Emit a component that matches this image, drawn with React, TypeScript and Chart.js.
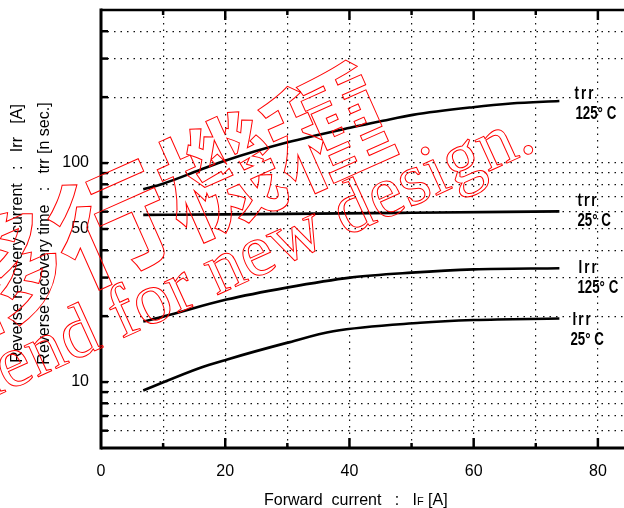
import React, { useEffect, useRef } from "react";
import { Chart, registerables } from "chart.js";

Chart.register(...registerables);

// ---- data ----
const xTrr125 = [6.8, 10, 15.9, 20.2, 29.9, 40.1, 45.4, 50.2, 59.9, 66, 73.8];
const trr125 = [76, 80.5, 93, 103, 124, 145, 156, 166, 180, 187, 192];

const xTrr25 = [6.8, 20, 30, 50, 73.8];
const trr25 = [58, 58.3, 58.6, 59.3, 60.2];

const xIrr125 = [6.8, 10, 20.2, 29.9, 40.1, 50, 60, 73.8];
const irr125 = [18.9, 19.9, 23.8, 27.0, 30.0, 31.6, 32.7, 33.1];

const xIrr25 = [6.8, 15.9, 20.2, 29.9, 37.4, 51.4, 60, 73.8];
const irr25 = [9.15, 11.6, 12.66, 15.1, 17.06, 18.65, 19.2, 19.5];

const seriesNames = ["trr", "trr", "Irr", "Irr"];
const seriesTemps = ["125° C", "25° C", "125° C", "25° C"];

const xGridValues = [0, 10, 20, 30, 40, 50, 60, 70, 80, 90];
const xLabelValues = [0, 20, 40, 60, 80];
const yGridValues = [5, 6, 7, 8, 9, 10, 20, 30, 40, 50, 60, 70, 80, 90, 100, 200, 300, 400, 500];
const yLabelValues = [10, 50, 100];

const xTitleMain = "Forward  current   :   I";
const xTitleSub = "F";
const xTitleEnd = " [A]";
const yTitleLines = [
  "Reverse recovery current   :   Irr   [A]",
  "Reverse recovery time   :   trr [n sec.]",
];
const watermarkJa = "移行機種";
const watermarkEn = "Not recommend for new design.";

// ---- style ----
const FONT = '"Liberation Sans", Arial, sans-serif';
const labelOffsets = [
  { dx1: 15, dy1: -7, dx2: 16, dy2: 13 },
  { dx1: 18, dy1: -10, dx2: 18, dy2: 10 },
  { dx1: 19, dy1: 0, dx2: 18, dy2: 20 },
  { dx1: 13, dy1: 1, dx2: 11, dy2: 21 },
];

const toPoints = (xs: number[], ys: number[]) => xs.map((x, i) => ({ x, y: ys[i] }));

const overlayPlugin = {
  id: "overlay",
  afterDraw(chart: any) {
    const { ctx, chartArea: ca, scales } = chart;
    const xs = scales.x;
    const ys = scales.y;
    const line = (x1: number, y1: number, x2: number, y2: number) => {
      ctx.beginPath();
      ctx.moveTo(x1, y1);
      ctx.lineTo(x2, y2);
      ctx.stroke();
    };
    ctx.save();
    ctx.strokeStyle = "#000";
    ctx.lineCap = "butt";
    // frame
    ctx.lineWidth = 3;
    line(ca.left, ca.top - 1.5, ca.left, ca.bottom + 1.5);
    line(ca.left, ca.bottom, ca.right, ca.bottom);
    ctx.lineWidth = 2.5;
    line(ca.left, ca.top, ca.right, ca.top);
    // inward ticks
    ctx.lineWidth = 2.5;
    yGridValues.forEach((v) => {
      if (v <= 5 || v >= 500) return;
      const y = ys.getPixelForValue(v);
      line(ca.left, y, ca.left + 7, y);
    });
    xGridValues.forEach((v) => {
      if (v <= 0) return;
      const x = xs.getPixelForValue(v);
      const len = v % 20 === 0 ? 10 : 5;
      line(x, ca.bottom, x, ca.bottom - len);
      line(x, ca.top, x, ca.top + len);
    });

    // series labels
    ctx.fillStyle = "#000";
    ctx.textBaseline = "middle";
    ctx.textAlign = "left";
    chart.data.datasets.forEach((_: any, i: number) => {
      const meta = chart.getDatasetMeta(i);
      const last = meta.data[meta.data.length - 1];
      const o = labelOffsets[i];
      const draw = (t: string, x: number, y: number, spacing: string) => {
        ctx.save();
        ctx.translate(x, y);
        ctx.scale(0.72, 1);
        ctx.font = "bold 18.5px " + FONT;
        (ctx as any).letterSpacing = spacing;
        ctx.fillText(t, 0, 0);
        ctx.restore();
      };
      draw(seriesNames[i], last.x + o.dx1, last.y + o.dy1, "3px");
      draw(seriesTemps[i], last.x + o.dx2, last.y + o.dy2, "0px");
    });

    // x title
    ctx.textBaseline = "alphabetic";
    ctx.font = "16px " + FONT;
    let tx = 264;
    const ty = 505;
    ctx.fillText(xTitleMain, tx, ty);
    tx += ctx.measureText(xTitleMain).width;
    ctx.font = "11px " + FONT;
    ctx.fillText(xTitleSub, tx, ty);
    tx += ctx.measureText(xTitleSub).width;
    ctx.font = "16px " + FONT;
    ctx.fillText(xTitleEnd, tx, ty);

    // y title (two rotated lines)
    ctx.font = "16px " + FONT;
    ctx.textAlign = "center";
    ctx.textBaseline = "middle";
    [18, 45].forEach((cx, i) => {
      ctx.save();
      ctx.translate(cx, 233.5);
      ctx.rotate(-Math.PI / 2);
      ctx.fillText(yTitleLines[i], 0, 0);
      ctx.restore();
    });

    // watermark
    ctx.strokeStyle = "#ff0000";
    ctx.lineWidth = 1;
    ctx.save();
    ctx.translate(165, 200);
    ctx.rotate((-24 * Math.PI) / 180);
    ctx.font = 'bold 118px "Noto Sans CJK JP"';
    ctx.textAlign = "center";
    ctx.textBaseline = "middle";
    ctx.strokeText(watermarkJa, 0, 0);
    ctx.restore();
    ctx.save();
    ctx.translate(538, 149);
    ctx.rotate((-24.5 * Math.PI) / 180);
    ctx.font = '74px "Liberation Serif", serif';
    ctx.textAlign = "right";
    ctx.textBaseline = "alphabetic";
    ctx.strokeText(watermarkEn, 0, 0);
    ctx.restore();

    ctx.restore();
  },
};

export default function App() {
  const ref = useRef<HTMLCanvasElement | null>(null);

  useEffect(() => {
    document.body.style.margin = "0";
    const canvas = ref.current;
    if (!canvas) return;
    const ds = (xs: number[], ys: number[]) => ({
      data: toPoints(xs, ys),
      borderColor: "#000",
      borderWidth: 2.6,
      pointRadius: 0,
      fill: false,
      cubicInterpolationMode: "monotone" as const,
    });
    const chart = new Chart(canvas, {
      type: "line",
      data: {
        datasets: [
          ds(xTrr125, trr125),
          ds(xTrr25, trr25),
          ds(xIrr125, irr125),
          ds(xIrr25, irr25),
        ],
      },
      options: {
        responsive: false,
        animation: false,
        layout: { padding: 0, autoPadding: false },
        plugins: { legend: { display: false }, tooltip: { enabled: false } },
        scales: {
          x: {
            type: "linear",
            min: 0,
            max: 90,
            afterBuildTicks: (s: any) => {
              s.ticks = xGridValues.map((v) => ({ value: v }));
            },
            afterFit: (s: any) => {
              s.height = 60;
              s.paddingLeft = 0;
              s.paddingRight = 4;
            },
            ticks: {
              autoSkip: false,
              maxRotation: 0,
              padding: 14,
              color: "#000",
              font: { family: FONT, size: 16 },
              callback: (v: any) => (xLabelValues.includes(Number(v)) ? String(v) : ""),
            },
            grid: { color: "#111", lineWidth: 1.2, drawTicks: false },
            border: { display: false, dash: [1.5, 5] },
          },
          y: {
            type: "logarithmic",
            min: 5,
            max: 500,
            afterBuildTicks: (s: any) => {
              s.ticks = yGridValues.map((v) => ({ value: v }));
            },
            afterFit: (s: any) => {
              s.width = 101;
              s.paddingTop = 10;
              s.paddingBottom = 0;
            },
            ticks: {
              autoSkip: false,
              padding: 12,
              color: "#000",
              font: { family: FONT, size: 16 },
              callback: (v: any) => (yLabelValues.includes(Number(v)) ? String(v) : ""),
            },
            grid: { color: "#111", lineWidth: 1.2, drawTicks: false },
            border: { display: false, dash: [1.5, 5] },
          },
        },
      },
      plugins: [overlayPlugin],
    });
    return () => chart.destroy();
  }, []);

  return (
    <div style={{ width: 624, height: 508, overflow: "hidden", position: "relative" }}>
      <canvas ref={ref} width={664} height={508} style={{ display: "block" }} />
    </div>
  );
}
